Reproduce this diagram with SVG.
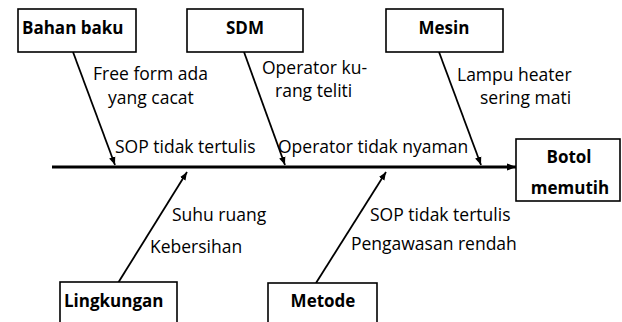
<svg xmlns="http://www.w3.org/2000/svg" width="622" height="322" viewBox="0 0 622 322">
<style>
.box{fill:#fff;stroke:#000;stroke-width:1.6}
.t{font-family:"Open Sans","Liberation Sans",sans-serif;font-size:17.5px;fill:#000}
.b{font-family:"Open Sans","Liberation Sans",sans-serif;font-size:17px;font-weight:bold;fill:#000}
.ln{stroke:#000;stroke-width:1.8;fill:none}
</style>
<defs>
<marker id="ah" viewBox="0 0 10 10" refX="10" refY="5" markerWidth="4.5" markerHeight="4.5" orient="auto" markerUnits="strokeWidth">
<path d="M0,1 L10,5 L0,9 Z" fill="#000"/>
</marker>
<marker id="ah2" viewBox="0 0 10 10" refX="10" refY="5" markerWidth="3" markerHeight="3" orient="auto" markerUnits="strokeWidth">
<path d="M0,1 L10,5 L0,9 Z" fill="#000"/>
</marker>
</defs>
<rect width="622" height="322" fill="#fff"/>
<g id="connectors">
<line x1="52" y1="167" x2="516" y2="167" stroke="#000" stroke-width="3" marker-end="url(#ah2)"/>
<line class="ln" x1="73" y1="52" x2="115" y2="165" marker-end="url(#ah)"/>
<line class="ln" x1="244" y1="52" x2="285" y2="165" marker-end="url(#ah)"/>
<line class="ln" x1="439" y1="52" x2="481" y2="165" marker-end="url(#ah)"/>
<line class="ln" x1="118" y1="283" x2="187" y2="172" marker-end="url(#ah)"/>
<line class="ln" x1="316" y1="283" x2="386" y2="172" marker-end="url(#ah)"/>
</g>
<g id="bahan-baku">
<rect class="box" x="18" y="9" width="118" height="43"/>
<text class="b" x="22" y="34">Bahan baku</text>
</g>
<g id="sdm">
<rect class="box" x="187" y="9" width="116" height="43"/>
<text class="b" x="245" y="34" text-anchor="middle">SDM</text>
</g>
<g id="mesin">
<rect class="box" x="386" y="9" width="117" height="43"/>
<text class="b" x="444" y="34" text-anchor="middle">Mesin</text>
</g>
<g id="botol-memutih">
<rect class="box" x="516" y="139" width="104" height="62"/>
<text class="b" x="569" y="163" text-anchor="middle">Botol</text>
<text class="b" x="570" y="194" text-anchor="middle">memutih</text>
</g>
<g id="lingkungan">
<rect class="box" x="60" y="282" width="117" height="50"/>
<text class="b" x="64" y="307">Lingkungan</text>
</g>
<g id="metode">
<rect class="box" x="268" y="283" width="109" height="50"/>
<text class="b" x="323" y="307" text-anchor="middle">Metode</text>
</g>
<g id="labels">
<text class="t" x="93" y="80">Free form ada</text>
<text class="t" x="108" y="104">yang cacat</text>
<text class="t" x="262" y="74">Operator ku-</text>
<text class="t" x="275" y="97">rang teliti</text>
<text class="t" x="457" y="81">Lampu heater</text>
<text class="t" x="480" y="104">sering mati</text>
<text class="t" x="115" y="153">SOP tidak tertulis</text>
<text class="t" x="278" y="153">Operator tidak nyaman</text>
<text class="t" x="172" y="221">Suhu ruang</text>
<text class="t" x="150" y="253">Kebersihan</text>
<text class="t" x="370" y="221">SOP tidak tertulis</text>
<text class="t" x="351" y="250">Pengawasan rendah</text>
</g>
</svg>
